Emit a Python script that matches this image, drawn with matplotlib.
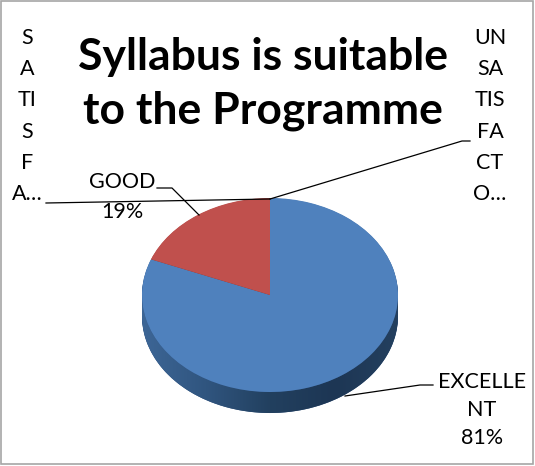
import matplotlib
matplotlib.use("Agg")
import matplotlib.pyplot as plt
import numpy as np
from matplotlib.patches import Rectangle, PathPatch
from matplotlib.path import Path
from matplotlib.colors import LinearSegmentedColormap

categories = ["EXCELLENT", "GOOD", "SATISFACTORY", "UNSATISFACTORY"]
values = [81, 19, 0, 0]
# the way the labels got wrapped in the original
wrapped = ["EXCELLE\nNT", "GOOD", "S\nA\nTI\nS\nF\nA…", "UN\nSA\nTIS\nFA\nCT\nO…"]
top_colors = ["#4f81bd", "#c0504d", "#9bbb59", "#8064a2"]
side_colors = ["#2d4f7c", "#7d2f2d", "#5f7a32", "#4e3c66"]
title = "Syllabus is suitable\nto the Programme"

W, H = 535, 466
plt.rcParams["font.family"] = ["Lato", "DejaVu Sans"]
fig = plt.figure(figsize=(W / 100, H / 100), dpi=100)

# pie ellipse: centre (270, 295) px, half axes 128 x 97 px, 21 px deep
cx, cy, a, b, depth = 270, 295, 128, 97, 21
d = depth / b
ax = fig.add_axes([(cx - a) / W, (H - (cy + b + depth)) / H, 2 * a / W, (2 * b + depth) / H])

for off in np.linspace(d, 0.005, 22):
    ax.pie(values, colors=side_colors, startangle=90, counterclock=False,
           center=(0, -off), radius=1, wedgeprops=dict(linewidth=0))

# shading of the front wall, lighter on the left
t = np.linspace(np.pi, 2 * np.pi, 200)
band = np.vstack([np.c_[np.cos(t), np.sin(t)], np.c_[np.cos(t[::-1]), np.sin(t[::-1]) - d]])
clip = PathPatch(Path(band), transform=ax.transData, fc="none", ec="none")
ax.add_patch(clip)
shade = LinearSegmentedColormap.from_list("shade", ["#3d6696", "#30557f", "#22405f", "#1d3654", "#24405f"])
img = ax.imshow(np.linspace(0, 1, 256)[None, :], cmap=shade, extent=(-1, 1, -1 - d, 0),
                aspect="auto", zorder=1.5)
img.set_clip_path(clip)

ax.pie(values, colors=top_colors, startangle=90, counterclock=False,
       center=(0, 0), radius=1, wedgeprops=dict(linewidth=0, zorder=2))
ax.set_aspect("auto")
ax.set_xlim(-1, 1)
ax.set_ylim(-1 - d, 1)
ax.axis("off")

# overlay in pixel coordinates for texts and leader lines
ov = fig.add_axes([0, 0, 1, 1])
ov.set_xlim(0, W)
ov.set_ylim(H, 0)
ov.axis("off")
ov.add_patch(Rectangle((1, 1), W - 3, H - 3, fill=False, ec="#a6a6a6", lw=1.2))

ov.text(263, 84, title, ha="center", va="center", fontsize=32, fontweight="bold",
        linespacing=1.38)

pct = [f"{v}%" for v in values]
tkw = dict(ha="center", va="center", fontsize=15.5)
ov.text(482, 410, wrapped[0] + "\n" + pct[0], linespacing=1.5, **tkw)
ov.text(122, 197, wrapped[1] + "\n" + pct[1], linespacing=1.65, **tkw)
ov.text(27, 116, wrapped[2], linespacing=1.7, **tkw)
ov.text(490, 116, wrapped[3], linespacing=1.7, **tkw)

lk = dict(color="black", lw=0.9)
ov.plot([345, 420, 433], [396, 385, 385], **lk)
ov.plot([157, 172, 199], [188, 188, 215], **lk)
ov.plot([46, 270], [203, 199], **lk)
ov.plot([270, 462, 470], [199, 141, 141], **lk)

fig.savefig("out.png", dpi=100)
